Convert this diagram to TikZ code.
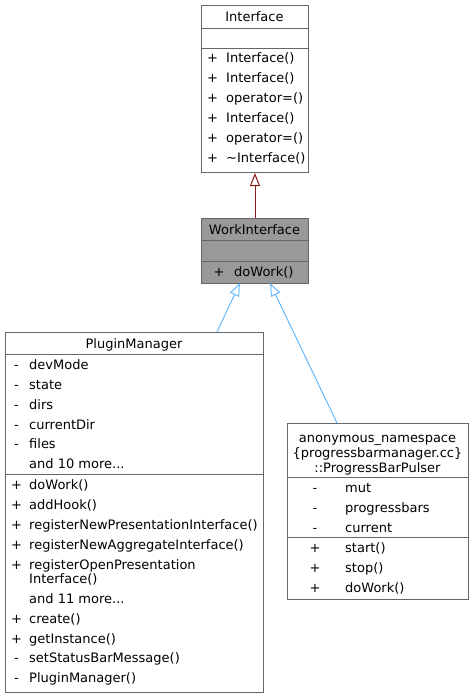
\documentclass[tikz,border=0pt]{standalone}
\usepackage{fontspec}
\setmainfont{DejaVu Sans}
\usetikzlibrary{arrows.meta}
\definecolor{bordergray}{HTML}{666666}
\definecolor{hlgray}{HTML}{999999}
\definecolor{privred}{HTML}{8B1A1A}
\definecolor{pubblue}{HTML}{63B8FF}
\tikzset{
  box/.style={draw=bordergray, line width=1pt, inner sep=0pt, anchor=north west},
  sepline/.style={draw=bordergray, line width=1pt},
  txt/.style={inner sep=0pt, font=\fontsize{13}{15}\selectfont, anchor=base west},
  ctxt/.style={inner sep=0pt, font=\fontsize{13}{15}\selectfont, anchor=base},
  inhred/.style={draw=privred, line width=1pt, -{Triangle[open, length=13pt, width=10pt]}},
  inhblue/.style={draw=pubblue, line width=1pt, -{Triangle[open, length=13pt, width=10pt]}}
}
\begin{document}
\begin{tikzpicture}[x=1pt,y=-1pt]
\useasboundingbox (0,0) rectangle (475,697);
% Interface
\node[box, minimum width=107pt, minimum height=167pt] (iface) at (201,5) {};
\node[ctxt] (ifaceT) at (254.5,21) {Interface};
\draw[sepline] (201,28) -- (308,28);
\draw[sepline] (201,48) -- (308,48);
\node[txt] (if1p) at (207,62) {+};
\node[txt] (if1) at (226,62) {Interface()};
\node[txt] (if2p) at (207,82) {+};
\node[txt] (if2) at (226,82) {Interface()};
\node[txt] (if3p) at (207,102) {+};
\node[txt] (if3) at (226,102) {operator=()};
\node[txt] (if4p) at (207,122) {+};
\node[txt] (if4) at (226,122) {Interface()};
\node[txt] (if5p) at (207,142) {+};
\node[txt] (if5) at (226,142) {operator=()};
\node[txt] (if6p) at (207,162) {+};
\node[txt] (if6) at (226,162) {\textasciitilde Interface()};
% WorkInterface
\node[box, fill=hlgray, minimum width=107pt, minimum height=65pt] (wi) at (201,218) {};
\node[ctxt] (wiT) at (254.5,234.5) {WorkInterface};
\draw[sepline] (201,240) -- (308,240);
\draw[sepline] (201,261) -- (308,261);
\node[txt] (wi1p) at (213.5,276.5) {+};
\node[txt] (wi1) at (234,276.5) {doWork()};
% PluginManager
\node[box, minimum width=258pt, minimum height=360pt] (pm) at (5,332) {};
\node[ctxt] (pmT) at (134,348.5) {PluginManager};
\draw[sepline] (5,354) -- (263,354);
\node[txt] (pa1p) at (14,369) {-};
\node[txt] (pa1) at (29,369) {devMode};
\node[txt] (pa2p) at (14,389) {-};
\node[txt] (pa2) at (29,389) {state};
\node[txt] (pa3p) at (14,409) {-};
\node[txt] (pa3) at (29,409) {dirs};
\node[txt] (pa4p) at (14,429) {-};
\node[txt] (pa4) at (29,429) {currentDir};
\node[txt] (pa5p) at (14,448.5) {-};
\node[txt] (pa5) at (29,448.5) {files};
\node[txt] (pa6) at (29,468) {and 10 more...};
\draw[sepline] (5,474) -- (263,474);
\node[txt] (pm1p) at (11,489) {+};
\node[txt] (pm1) at (29,489) {doWork()};
\node[txt] (pm2p) at (11,509) {+};
\node[txt] (pm2) at (29,509) {addHook()};
\node[txt] (pm3p) at (11,529) {+};
\node[txt] (pm3) at (29,529) {registerNewPresentationInterface()};
\node[txt] (pm4p) at (11,549) {+};
\node[txt] (pm4) at (29,549) {registerNewAggregateInterface()};
\node[txt] (pm5p) at (11,569) {+};
\node[txt] (pm5) at (29,569) {registerOpenPresentation};
\node[txt] (pm5b) at (29,583) {Interface()};
\node[txt] (pm6) at (29,603.5) {and 11 more...};
\node[txt] (pm7p) at (11,623.5) {+};
\node[txt] (pm7) at (29,623.5) {create()};
\node[txt] (pm8p) at (11,643.5) {+};
\node[txt] (pm8) at (29,643.5) {getInstance()};
\node[txt] (pm9p) at (14,662.5) {-};
\node[txt] (pm9) at (29,662.5) {setStatusBarMessage()};
\node[txt] (pm10p) at (14,682.5) {-};
\node[txt] (pm10) at (29,682.5) {PluginManager()};
% ProgressBarPulser
\node[box, minimum width=181pt, minimum height=176pt] (pbp) at (287,423) {};
\node[ctxt] (pbT1) at (377.5,442) {anonymous\_namespace};
\node[ctxt] (pbT2) at (377.5,457) {\{progressbarmanager.cc\}};
\node[ctxt] (pbT3) at (377.5,472) {::ProgressBarPulser};
\draw[sepline] (287,477) -- (468,477);
\node[ctxt] (pb1p) at (315,492) {-};
\node[txt] (pb1) at (345,492) {mut};
\node[ctxt] (pb2p) at (315,512) {-};
\node[txt] (pb2) at (345,512) {progressbars};
\node[ctxt] (pb3p) at (315,532) {-};
\node[txt] (pb3) at (345,532) {current};
\draw[sepline] (287,537) -- (468,537);
\node[ctxt] (pb4p) at (315,552) {+};
\node[txt] (pb4) at (345,552) {start()};
\node[ctxt] (pb5p) at (315,572) {+};
\node[txt] (pb5) at (345,572) {stop()};
\node[ctxt] (pb6p) at (315,592) {+};
\node[txt] (pb6) at (345,592) {doWork()};
% connectors
\draw[inhred] (wi.north) -- (iface.south);
\coordinate (pmtop) at (217,332);
\coordinate (witip1) at (240,283);
\coordinate (pbtop) at (337,423);
\coordinate (witip2) at (270,283);
\draw[inhblue] (pmtop) -- (witip1);
\draw[inhblue] (pbtop) -- (witip2);
\end{tikzpicture}
\end{document}
